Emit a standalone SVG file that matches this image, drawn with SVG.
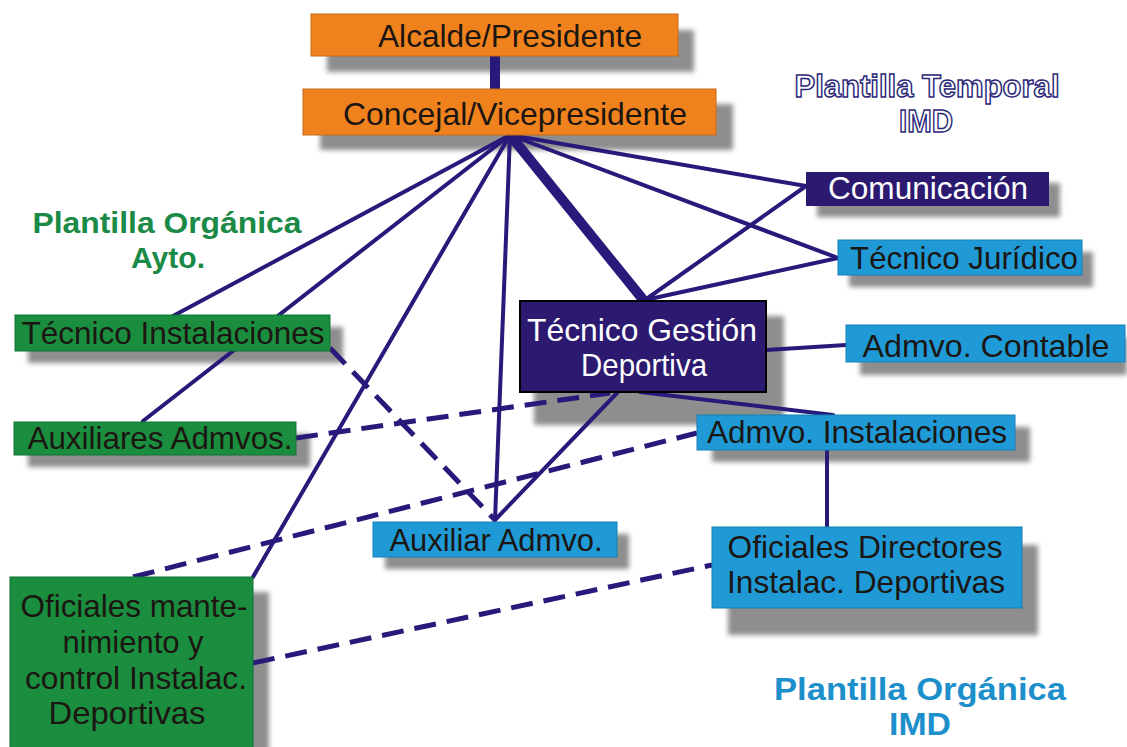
<svg xmlns="http://www.w3.org/2000/svg" width="1127" height="747" viewBox="0 0 1127 747">
<defs>
<filter id="blur" x="-10%" y="-30%" width="120%" height="160%"><feGaussianBlur stdDeviation="2.5"/></filter>
</defs>
<style>
.sh{fill:#8e8e8e;filter:url(#blur)}
.ln{stroke:#28197a;stroke-width:4;fill:none;stroke-linecap:round}
.th{stroke-width:10;stroke-linecap:butt}
.ds{stroke-dasharray:22 11;stroke-width:5;stroke-linecap:butt}
.or{fill:#f0821e;stroke:#c86a18;stroke-width:1}
.gr{fill:#1b8d3f;stroke:#157034;stroke-width:1}
.bl{fill:#1f9ad6;stroke:#1780b4;stroke-width:1}
.nv{fill:#2c1a70}
.t{font-family:"Liberation Sans",Arial,sans-serif;font-size:32px;text-anchor:middle}
.dk{fill:#1c1612}
.wh{fill:#ffffff}
.ttl{font-family:"Liberation Sans",Arial,sans-serif;font-weight:bold;text-anchor:middle}
</style>
<rect width="1127" height="747" fill="#ffffff"/>

<g id="shadows">
<rect class="sh" x="327" y="30" width="367" height="42"/>
<rect class="sh" x="320" y="104" width="413" height="46"/>
<rect class="sh" x="817" y="183" width="243" height="34"/>
<rect class="sh" x="849" y="252" width="244" height="35"/>
<rect class="sh" x="28" y="327" width="315" height="36"/>
<rect class="sh" x="28" y="434" width="282" height="33"/>
<rect class="sh" x="534" y="316" width="250" height="109"/>
<rect class="sh" x="860" y="338" width="267" height="37"/>
<rect class="sh" x="712" y="427" width="318" height="35"/>
<rect class="sh" x="385" y="534" width="244" height="35"/>
<rect class="sh" x="728" y="545" width="310" height="90"/>
<rect class="sh" x="26" y="592" width="243" height="170"/>
</g>

<g id="connectors">
<line class="ln th" x1="495" y1="56" x2="495" y2="89"/>
<line class="ln" x1="510" y1="135" x2="173" y2="316"/>
<line class="ln" x1="510" y1="135" x2="143" y2="421"/>
<line class="ln" x1="510" y1="135" x2="253" y2="577"/>
<line class="ln" x1="510" y1="135" x2="495" y2="520"/>
<line class="ln th" x1="510" y1="135" x2="645" y2="302"/>
<line class="ln" x1="510" y1="135" x2="806" y2="186"/>
<line class="ln" x1="510" y1="135" x2="838" y2="258"/>
<line class="ln" x1="645" y1="300" x2="806" y2="186"/>
<line class="ln" x1="645" y1="300" x2="838" y2="258"/>
<line class="ln" x1="766" y1="350" x2="846" y2="345"/>
<line class="ln" x1="617" y1="393" x2="495" y2="520"/>
<line class="ln" x1="640" y1="392" x2="833" y2="415"/>
<line class="ln" x1="827" y1="450" x2="827" y2="527" stroke-width="5"/>
<line class="ln ds" x1="330" y1="348" x2="495" y2="520"/>
<line class="ln ds" x1="296" y1="438" x2="610" y2="393"/>
<line class="ln ds" x1="133" y1="577" x2="697" y2="433"/>
<line class="ln ds" x1="253" y1="663" x2="712" y2="565"/>
</g>

<g id="alcalde">
<rect class="or" x="311" y="14" width="367" height="42"/>
<text class="t dk" x="510" y="47" textLength="264" lengthAdjust="spacingAndGlyphs">Alcalde/Presidente</text>
</g>
<g id="concejal">
<rect class="or" x="303" y="89" width="413" height="46"/>
<text class="t dk" x="515" y="125" textLength="344" lengthAdjust="spacingAndGlyphs">Concejal/Vicepresidente</text>
</g>
<g id="comunicacion">
<rect class="nv" x="806" y="172" width="243" height="34"/>
<text class="t wh" x="928" y="199" textLength="200" lengthAdjust="spacingAndGlyphs">Comunicación</text>
</g>
<g id="tecnico-juridico">
<rect class="bl" x="838" y="240" width="244" height="35"/>
<text class="t dk" x="964" y="269" textLength="228" lengthAdjust="spacingAndGlyphs">Técnico Jurídico</text>
</g>
<g id="tecnico-instalaciones">
<rect class="gr" x="15" y="315" width="315" height="36"/>
<text class="t dk" x="173" y="344" textLength="303" lengthAdjust="spacingAndGlyphs">Técnico Instalaciones</text>
</g>
<g id="auxiliares-admvos">
<rect class="gr" x="14" y="422" width="282" height="33"/>
<text class="t dk" x="160" y="449" textLength="265" lengthAdjust="spacingAndGlyphs">Auxiliares Admvos.</text>
</g>
<g id="tecnico-gestion">
<rect x="520" y="301" width="246" height="91" fill="#2c1a70" stroke="#000000" stroke-width="2"/>
<text class="t wh" x="642" y="341" textLength="230" lengthAdjust="spacingAndGlyphs">Técnico Gestión</text>
<text class="t wh" x="644" y="376" textLength="126" lengthAdjust="spacingAndGlyphs">Deportiva</text>
</g>
<g id="admvo-contable">
<rect class="bl" x="846" y="325" width="279" height="37"/>
<text class="t dk" x="986" y="357" textLength="247" lengthAdjust="spacingAndGlyphs">Admvo. Contable</text>
</g>
<g id="admvo-instalaciones">
<rect class="bl" x="697" y="415" width="318" height="35"/>
<text class="t dk" x="857" y="443" textLength="300" lengthAdjust="spacingAndGlyphs">Admvo. Instalaciones</text>
</g>
<g id="auxiliar-admvo">
<rect class="bl" x="373" y="522" width="244" height="35"/>
<text class="t dk" x="496" y="551" textLength="213" lengthAdjust="spacingAndGlyphs">Auxiliar Admvo.</text>
</g>
<g id="oficiales-directores">
<rect class="bl" x="712" y="527" width="310" height="81"/>
<text class="t dk" x="865" y="558" textLength="275" lengthAdjust="spacingAndGlyphs">Oficiales Directores</text>
<text class="t dk" x="866" y="593" textLength="278" lengthAdjust="spacingAndGlyphs">Instalac. Deportivas</text>
</g>
<g id="oficiales-mantenimiento">
<rect class="gr" x="10" y="577" width="243" height="172"/>
<text class="t dk" x="134" y="617" textLength="227" lengthAdjust="spacingAndGlyphs">Oficiales mante-</text>
<text class="t dk" x="133" y="653" textLength="141" lengthAdjust="spacingAndGlyphs">nimiento y</text>
<text class="t dk" x="136" y="689" textLength="222" lengthAdjust="spacingAndGlyphs">control Instalac.</text>
<text class="t dk" x="127" y="724" textLength="157" lengthAdjust="spacingAndGlyphs">Deportivas</text>
</g>

<g id="title-ayto">
<text class="ttl" x="167" y="233" font-size="30" fill="#1a8a46" textLength="269" lengthAdjust="spacingAndGlyphs">Plantilla Orgánica</text>
<text class="ttl" x="168" y="268" font-size="30" fill="#1a8a46" textLength="74" lengthAdjust="spacingAndGlyphs">Ayto.</text>
</g>
<g id="title-temporal">
<text class="ttl" x="927" y="97" font-size="32" fill="#ffffff" stroke="#2b2878" stroke-width="1.5" textLength="265" lengthAdjust="spacingAndGlyphs">Plantilla Temporal</text>
<text class="ttl" x="926" y="132" font-size="32" fill="#ffffff" stroke="#2b2878" stroke-width="1.5" textLength="54" lengthAdjust="spacingAndGlyphs">IMD</text>
</g>
<g id="title-imd">
<text class="ttl" x="920" y="700" font-size="31" fill="#1d8fcb" textLength="292" lengthAdjust="spacingAndGlyphs">Plantilla Orgánica</text>
<text class="ttl" x="920" y="735" font-size="31" fill="#1d8fcb" textLength="62" lengthAdjust="spacingAndGlyphs">IMD</text>
</g>
</svg>
